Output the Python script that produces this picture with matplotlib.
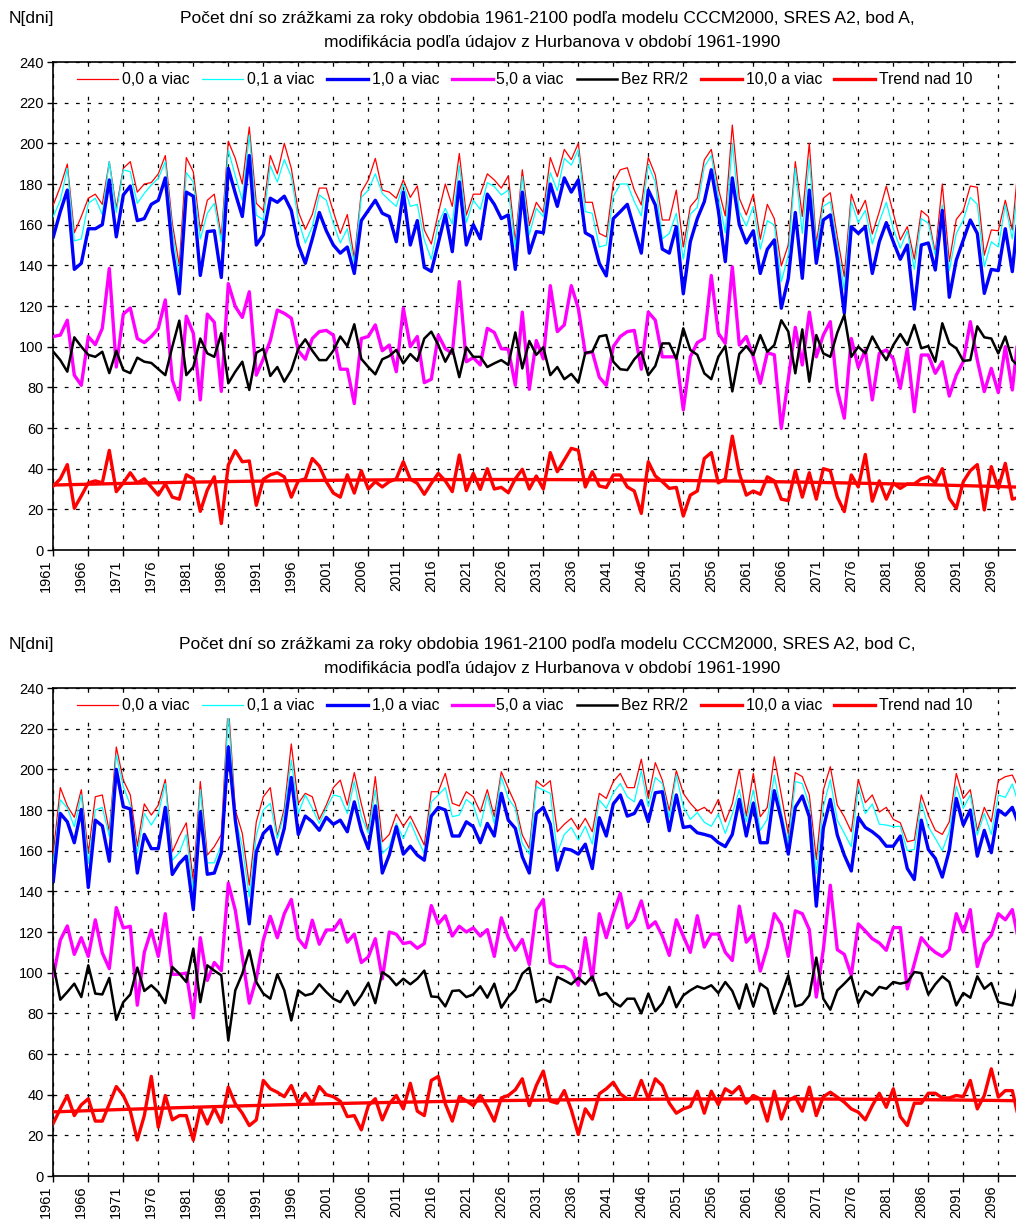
import numpy as np
import matplotlib
matplotlib.use("Agg")
import matplotlib.pyplot as plt

# ---------------- data ----------------
years = np.arange(1961, 2100)
xtick_years = np.arange(1961, 2100, 5)
ytick_vals = np.arange(0, 241, 20)

series_labels = ["0,0 a viac", "0,1 a viac", "1,0 a viac", "5,0 a viac",
                 "Bez RR/2", "10,0 a viac", "Trend nad 10"]

title_A = ["Počet dní so zrážkami za roky obdobia 1961-2100 podľa modelu CCCM2000, SRES A2, bod A,",
           "modifikácia podľa údajov z Hurbanova v období 1961-1990"]
title_C = ["Počet dní so zrážkami za roky obdobia 1961-2100 podľa modelu CCCM2000, SRES A2, bod C,",
           "modifikácia podľa údajov z Hurbanova v období 1961-1990"]
ylabel_text = "N[dni]"

# ---- bod A ----
A_r00 = [169.7,178.7,189.8,156,164,173,175,170,191,168,187.7,191,176,180,180.7,185,194,160.7,140,193,186,157,172,175,
         154,201,192.6,180,208,170.5,167,194,185,200,187.7,166.4,157.7,165,178,178,166.4,155.7,165,143.4,176,182,192.6,177,176,
         173,182,173.4,179,157.4,150.5,165.6,180,169,195,164.7,175,175,185,182,178,184,151.6,187,159.8,171,166,193,183.6,
         197,192,200,171,171,155.7,154,180.7,187,188,177,169.7,193,184.4,162.3,162.3,177,149,168.9,173,191.8,197,177.9,164.3,
         209,173,164.8,175,152.8,170,163,139.7,150,191,164,200,150.8,173,175.7,154,134.4,175,165,172,155.4,166.4,179,165.6,
         152.5,159,143,166.9,164,146,180,141.8,162.6,167,179,178.4,145,157.4,157,172,157.4,195]
A_r01 = [164,172,187.7,152,153,170.5,173,165,191,166,187,186,170.5,175.4,179.5,182.8,191,157,134.4,185.6,181,153,165.6,170.5,
         151.6,196.7,184,172,204,164.7,162.3,189,181,192,183.6,162.3,151,159,174.6,172,160.7,151,158,141,173.4,177,185,175.4,172,
         169,180,169,170,152.5,143,160.7,168,160.3,189,161,172,167.5,180.7,178.7,174.6,177,149,183.6,155,168,164,185.6,176.7,
         192.6,189.3,197,166.4,165.6,149,150,173.8,180,180,171.3,164.3,189.3,181,153,155.7,165.6,143,165.2,168.5,188.5,194,174,156,
         200,166.4,159.3,169,147.9,162,159.8,132,145,187.7,155.7,192,148.4,169,171.3,150,127.9,171.3,161,167,150.5,161.5,171,158,
         148.4,157,138,163,160.7,145,169.7,137.4,155.7,162.3,173.4,170,139.3,151.6,149,169.7,153,185]
A_r10 = [154,166.4,177,138,141,158,158,160,182,154,174.6,179,162,163,170,172,183,148,126,176,174,135,156.6,157,
         134,187.7,175.4,164,194,150,155,173,171,174,167,150,141,153,166,157,150,146,149,136,162,167,172,165.6,164,
         151.6,176,150,162,139,137,151,165,146.7,181,150,160,153,175,170,163,164.8,138,176,146,156.6,156,180,169,
         183,176,182,156,154,141,134.8,163,166.4,170,158,146,177,169.7,148,146,159,126,151.6,163,171.3,187,167,141.8,
         183,160,151,157,136,147.9,152.5,118.9,133.6,166,133.6,177,141,162.3,164.8,143.4,116.4,159,155.7,159,136,151.6,161,151.6,
         143,150,118.4,150,151,137.7,167,124.3,142.6,152.5,162.3,155.7,126.2,138,137.4,158,136.9,170]
A_r50 = [105,105.7,113,86,81,105,101,109,138.5,90,116,119,104,102,105,109,123,83.6,73.8,115,106.6,73.8,116,112,
         78,131,119.7,114.4,127,86,94,103,118,116.4,114,98,93.8,104,107.4,108,105.7,88.9,88.9,72,104,105,110.7,98,100.8,
         87.7,118.9,100,105,82.3,84,105.7,99,96.7,132,92.6,94.6,91,109,107,99,98.7,81,117,79,103,94,130,107.4,
         110.7,130,118.9,96.7,97.5,85,81,100,105,107.4,108,88.9,117,113,95,95,95,68.9,95,102,104,135,106.6,101.6,
         139.3,100.8,105,95,82,97,96,59.8,84,109.5,91,117,95,105.7,112.3,78.7,64.8,104,89.8,98.4,73.8,96.7,98.4,94,
         79.5,99,68,95.9,95.9,86.9,92.6,75.7,86,92.6,112.3,93.4,77.9,89.3,77.4,100,78.7,110]
A_bez = [97.5,93.4,87.7,104.6,100,96,95,97.5,87,98,88.5,87,94.6,92.6,92,89,86,100,112.8,86,90,104,96.7,95,
         106.6,82,87.7,92.6,78.7,97,99,85.6,90,82.8,88.5,99,103.6,98,93.4,93.4,98,105,100.3,111,94,90,86.4,93.8,95.4,
         98.4,91.8,96.4,93,104,107.4,100.8,92.6,99,85,99.7,95,95,90,91.8,93.4,91,107,89.3,102.8,96,99.7,86,90,
         84,86.6,82.3,97,97.5,105,105.7,92.6,88.9,88.5,93.8,97.5,86,90.5,101.6,101.6,94,109,98.4,96,86.9,84,95,100.3,
         78,96.4,100.3,95.9,105.7,97.5,100.8,113,107.4,86.9,108.5,82.8,105.7,96.7,95,106.9,115.6,95,100,96.7,105,98.7,93.4,100.8,
         106.2,100.8,110.7,99.2,100.3,92.6,111.5,101.6,99.2,93,93.4,110,104.6,104,96.7,105,93.4,90]
A_r100 = [31.5,35,42,20.5,26.6,33,34,33,49,28.7,33,38,33,35,31,27,32.5,26,25,37,35,19,29.5,36,
          13,41.8,48.9,43.4,43.8,22,34.8,37,38,36,26,34,35,45,41.3,33.6,28,26,37,28,39,30,33.6,31,33.6,
          35,43.4,34.8,32.8,27.4,32.8,37.7,34,28.7,46.7,29.2,37.7,29.8,40,30,30.8,28.2,35,39.7,30,36.4,30,47.9,38.5,
          44.3,50,49,31,38.5,31.5,30.7,36.9,36.9,31,29,18,43.4,36.4,33.6,30.3,30.8,16.7,27,29,45,47.9,33,35,
          56,37.7,27,29,27.4,36,34,25,24.3,39,26,38,25,40,39,26,18.9,36.9,31,47,24,34,25,32.8,
          30.3,32.5,32.5,35,36,33,40,25.4,20.5,33.6,39,42,19.7,41,30.3,42.6,25,26]

# ---- bod C ----
C_r00 = [158.6,191,182,176.4,190,158.6,186.5,187.4,169.3,211,194.7,187.4,162.2,183,177.5,182.4,195,159.4,167,173.7,144.7,194,157.8,162,
         168,232,180,168.5,143,174.2,186.5,191,167,180.8,212.5,183.3,188.2,186.5,175.4,182.4,191,194.7,182.4,198.4,183,169.3,196.4,164.4,168,
         178,172,177,170,162.7,189,189,198,183.3,182,189,186.5,179,190,176.7,198.8,190.6,183,167.7,161,194.4,191.5,194.4,169.3,
         173,175.9,170.4,175.9,169.3,188.2,185.7,194,198,191,191,205,185.7,203.3,194.7,179.6,199.3,188.2,183.3,179.6,181.3,178.3,185.2,174.2,
         183,200,177,198,176.7,181.3,206.2,187.4,168,198.4,196.4,187.4,155.7,189.8,201.3,182.4,176.7,169.3,195,183.6,187.4,179,181.3,175.4,
         173.7,164.4,165.2,187.4,177.5,170,168,174.2,198,185.7,190,169.8,181.3,174.2,194.4,196.4,197.2,190]
C_r01 = [153.7,185,181,171.8,187.4,153.7,180,181.3,167,207,191.5,182.4,158.6,178.3,172.6,178.3,193,155.3,159,168,139.7,190,154,154,
         163,227.6,176.7,162,137.3,167.7,180,183.3,166,178.3,204.6,178.3,187.4,180.8,173.4,180.8,187.4,186.5,178.3,194,177,168.5,189.8,158.6,162,
         173.4,166,174.2,166,158.6,184,187.4,191,176.7,177.5,185.2,182.4,171.8,187.4,173.4,196.4,185.7,180.8,163.5,158.3,191.5,189.8,188.2,159,
         168,171.4,165.2,172,163.2,184.9,180.8,188.5,193,186.5,184,199.3,181.6,196,193,176.4,197.2,181.6,175.4,178.7,174,172,178,168.5,
         178,190,174.2,189.8,170,175.4,197.2,179,163.5,194,193,182.4,148.8,181.6,195,175,168.5,162,191.5,178.3,183,173,172.6,171.8,
         172,160,160.6,183.6,171.8,166,160,169.3,191.8,180.8,187.4,167.7,178.3,168,187.4,186.2,192.8,182]
C_r10 = [145,178.3,174.2,163.9,180.3,141.9,175,172.2,154.8,200,181.6,180.5,149,168,161,161,181.3,148.3,153.7,157.3,131,179,148.4,149,
         159,211,175,150,124,159.4,168.5,172,158.3,171,196,168,177,174.2,170,176.4,173,175,169.3,184,170,161,182,149,158,
         171.8,158.3,162.2,157.8,155.3,177,181.3,180,167.2,167.2,174.2,171.8,163.9,173.4,167.2,188.2,175,171,157,149,178.3,181.3,173,150.4,
         161,160.3,158.3,163.2,151.2,176.2,167.2,183,187.4,177,178.3,184.6,174.2,188.5,189,169.8,187.4,171.4,172,168.8,168,167,164,162,
         168,185.2,167.2,183.3,163.9,163.9,189.5,175.4,158.3,181.3,186.9,176.7,132.7,171,185.2,167.7,157.8,150,176.4,171.4,169.3,166.5,162.2,162.2,
         167.2,151.2,145.8,175,160.6,156.2,147,160.3,185.7,172.6,180,157.3,170,159,180,177.5,181.3,172]
C_r50 = [98.2,116,123,109,117.2,108,126,109.7,102,132,122,122.8,84,110,121,108,129,99.2,99.2,99.8,77.8,117.2,96.2,105,
         101,144,130.7,107.7,85,97,116,127.7,117.2,129,136,116.7,112.3,125.8,114,121,121,126,115,119,105,107.7,116.7,97,120,
         118.9,114.3,115,112,114.3,133,124,128,118,122.8,120,122,118,121.2,108,127,117.2,111,116.3,104,130.7,136,104.8,103,
         103,101,93.8,117.2,96.2,129,117.2,129,139,122,126,135.3,122,125,118,108.5,126,118,110,128,112.6,119,119,110,
         106,132.7,115,118.9,100.8,112.6,129,123.8,108,130.4,129,121.2,88,111.3,143,111.3,109,98.7,124,120.5,116.7,114.6,111,122.2,
         122.2,92,104.4,117.2,113,110,108,111.3,129,120,131,103,114.3,118.4,129,126,131,114]
C_bez = [104,86.7,90.5,94.6,88,103.6,89.7,89.3,97.4,76.8,85.5,89.3,102.5,91,93.8,90.5,85,102.8,99.5,95.4,111.8,85.5,103.6,101,
         98.7,66.7,91.3,99.5,111,95.4,89.7,87.2,99.2,91.3,76.5,91.3,88.8,89.7,94.3,90.5,87.2,85.5,91,84,88.8,94.9,85,100.3,97.9,
         93.8,97,94.3,97,101,88.3,88,83.4,91,91.3,88,89.3,93.3,87.7,94.6,82.8,88,91.6,99.5,102.5,85.5,87.2,85.5,97.9,
         96.2,94.3,97.5,94.3,98.2,88.8,90,85.5,83.4,87.2,87.2,80,89.7,81,85,93,83,88.8,91.3,93.3,92.1,93.8,90,95.4,
         91,82.3,94.3,83.4,94.6,92.1,79.8,88.8,98.7,83.4,84.4,88.8,107.4,87.2,81.8,91.3,94.6,98.2,85,91,88.8,93,92.1,95.4,
         94.6,95.4,100.3,99.8,89.3,94.3,98.2,95.4,83.9,90,87.7,98.2,92.1,94.9,85.5,84.7,83.9,96]
C_r100 = [26,33,39.6,29.7,35,38,27,27,35.5,44,39.6,32,17.7,29.7,49,24,39.6,27.6,29.7,29.7,17.7,33.5,25.6,33.5,
          26.4,43.7,35.5,30.9,24.8,27.6,47,42.9,41.2,39,44.5,35.8,40.7,35.5,44,40,39,36.8,29.2,29.7,22.7,34.6,38,27.6,35.5,
          39.6,33,45.6,31.9,29.7,47,49,35.5,27,39,37,34.6,39.6,33.8,27,38.4,39.6,42.4,47.8,34.6,44.5,51.6,36.8,35.8,
          42,32.5,20.4,33,28,40.4,42.9,46.1,40.4,37.9,37.9,47,37.9,47.8,44.5,35.8,30.9,33,34.2,41.7,30.9,41.7,35.1,42.9,
          40.7,44,35.8,39.6,37.9,27,41.7,28,37,39,31.9,43.7,29.7,39,41.2,38.8,36.3,33,31.4,27.6,34.6,40.7,33.8,42.9,
          29.2,24.8,35.8,35.8,40.7,40.7,38.4,38.4,39.6,39,47,33,39.6,52.7,38.8,42,42,27]

# ---------------- drawing ----------------
plt.rcParams['font.family'] = ['Liberation Sans', 'DejaVu Sans']

W, H = 1016, 1225
fig = plt.figure(figsize=(W / 100, H / 100), dpi=100)

PX_PER_YEAR = 7.0
X0 = 53.3


def add_panel(top, bottom, title_lines, r00, r01, r10, r50, bez, r100):
    left = X0
    right = X0 + (years[-1] + 1 - years[0]) * PX_PER_YEAR
    ax = fig.add_axes([left / W, 1 - bottom / H, (right - left) / W, (bottom - top) / H])
    ax.set_xlim(years[0], years[-1] + 1)
    ax.set_ylim(0, 240)

    ax.plot(years, r00, color='#FF0000', lw=0.9, label=series_labels[0], zorder=3)
    ax.plot(years, r01, color='#00FFFF', lw=0.9, label=series_labels[1], zorder=3)
    ax.plot(years, r10, color='#0000FF', lw=2.4, label=series_labels[2], zorder=4)
    ax.plot(years, r50, color='#FF00FF', lw=2.4, label=series_labels[3], zorder=4)
    ax.plot(years, bez, color='black', lw=1.8, label=series_labels[4], zorder=4)
    ax.plot(years, r100, color='#FF0000', lw=2.4, label=series_labels[5], zorder=4)
    coef = np.polyfit(years - years[0], np.asarray(r100), 2)
    trend = np.polyval(coef, years - years[0])
    ax.plot(years, trend, color='#FF0000', lw=2.4, label=series_labels[6], zorder=4)

    ax.set_yticks(ytick_vals)
    ax.set_yticklabels([str(v) for v in ytick_vals])
    ax.set_xticks(xtick_years)
    ax.set_xticklabels([str(y) for y in xtick_years], rotation=90, ha='right')
    ax.tick_params(axis='both', direction='out', length=4, width=1, color='black',
                   labelsize=10.5, pad=3)
    ax.grid(True, color='black', linestyle=(0, (3.0, 6.0)), linewidth=0.9)
    ax.set_axisbelow(True)
    for sp in ax.spines.values():
        sp.set_color('black')
        sp.set_linewidth(1.2)

    leg = ax.legend(loc='center', bbox_to_anchor=((525 - left) / (right - left), (bottom - 80 + 62 - top) / (bottom - top)),
                    ncol=7, fontsize=11.3, frameon=True, fancybox=False, handlelength=2.6,
                    handletextpad=0.25, columnspacing=0.8, borderpad=0.25, borderaxespad=0)
    leg.get_frame().set_facecolor('white')
    leg.get_frame().set_edgecolor('white')
    leg.get_frame().set_alpha(1)
    leg.set_zorder(10)

    fig.text(547 / W, 1 - (top - 44) / H, title_lines[0], ha='center', va='center', fontsize=12.5)
    fig.text(552 / W, 1 - (top - 20) / H, title_lines[1], ha='center', va='center', fontsize=12.5)
    fig.text(9 / W, 1 - (top - 44) / H, ylabel_text, ha='left', va='center', fontsize=12.5)
    return ax


add_panel(62, 550, title_A, A_r00, A_r01, A_r10, A_r50, A_bez, A_r100)
add_panel(688, 1176, title_C, C_r00, C_r01, C_r10, C_r50, C_bez, C_r100)

fig.savefig("out.png", dpi=100, facecolor='white')
